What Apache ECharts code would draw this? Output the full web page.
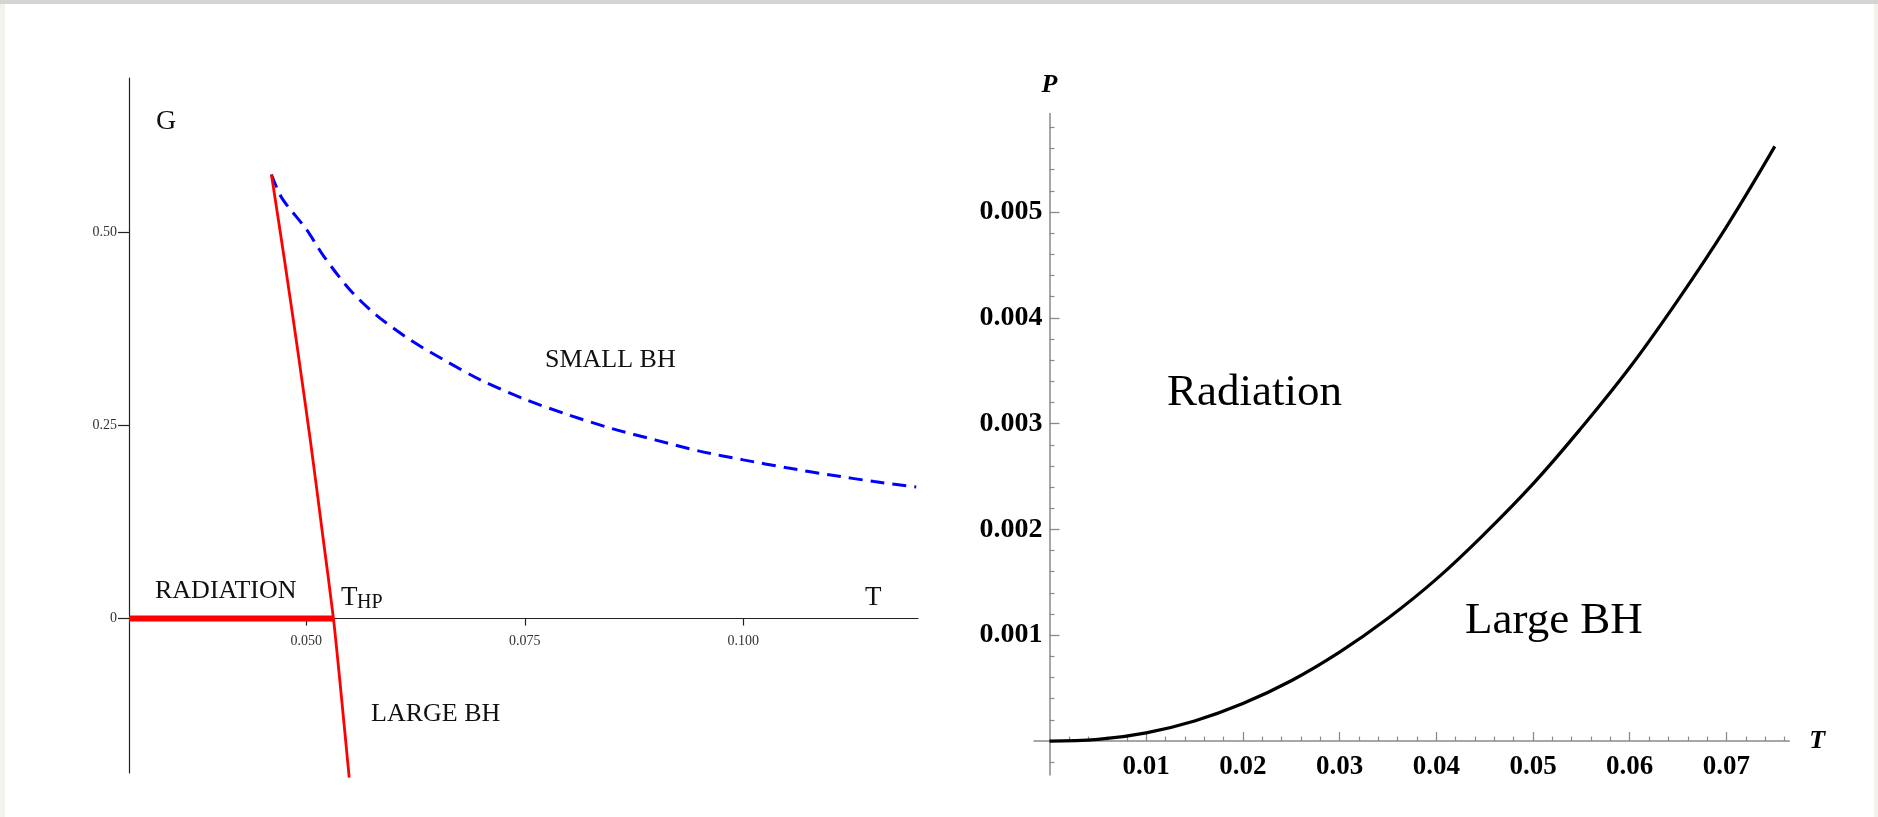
<!DOCTYPE html>
<html>
<head>
<meta charset="utf-8">
<title>Hawking-Page transition</title>
<script src="https://cdn.jsdelivr.net/npm/echarts@6/dist/echarts.min.js"></script>
<style>
  html, body { margin: 0; padding: 0; background: #ffffff; }
  #wrap { position: relative; width: 1878px; height: 817px; overflow: hidden; }
  #chart { position: absolute; left: 0; top: 0; width: 1878px; height: 817px; }
  .edge { position: absolute; pointer-events: none; }
</style>
</head>
<body>
<div id="wrap">
  <div id="chart"></div>
  <div class="edge" style="left:0;top:0;width:5px;height:817px;background:#f3f2ec"></div>
  <div class="edge" style="right:0;top:0;width:4px;height:817px;background:#f3f2ec"></div>
  <div class="edge" style="left:0;top:0;width:1878px;height:4px;background:#d4d4d4"></div>
</div>
<script>
// ---- Left panel: free energy G against temperature T ----
// radiation phase, G = 0 up to the Hawking-Page temperature
const radiationT = [0.0297, 0.0531];
const radiationG = [0, 0];
// large black hole branch
const largeT = [0.0460, 0.0475, 0.0490, 0.0505, 0.0518, 0.0531, 0.0540, 0.0549];
const largeG = [0.575, 0.464, 0.348, 0.227, 0.114, 0.000, -0.100, -0.206];
// small black hole branch
const smallT = [0.0460, 0.0472, 0.0500, 0.0520, 0.0550, 0.0580, 0.0620, 0.0660, 0.0700,
                0.0750, 0.0800, 0.0850, 0.0900, 0.0950, 0.1000, 0.1050, 0.1100, 0.1150, 0.1198];
const smallG = [0.575, 0.5445, 0.504, 0.469, 0.4255, 0.393, 0.360, 0.3333, 0.3086,
                0.284, 0.2638, 0.2459, 0.2311, 0.2168, 0.2055, 0.1952, 0.1859, 0.1774, 0.1705];
const gTicksT = [0.05, 0.075, 0.1];
const gTickLabelsT = ['0.050', '0.075', '0.100'];
const gTicksG = [0, 0.25, 0.5];
const gTickLabelsG = ['0', '0.25', '0.50'];

// ---- Right panel: coexistence line P(T) ----
const lineT = [0, 0.005, 0.010, 0.015, 0.020, 0.025, 0.030, 0.035, 0.040, 0.045,
               0.050, 0.055, 0.060, 0.065, 0.070, 0.075];
const lineP = [0, 0.000015, 0.0000775, 0.00019, 0.000355, 0.00057, 0.00084, 0.00116, 0.00153, 0.00196,
               0.00243, 0.00296, 0.00353, 0.00417, 0.00486, 0.00562];
const pTicksT = [0.01, 0.02, 0.03, 0.04, 0.05, 0.06, 0.07];
const pTickLabelsT = ['0.01', '0.02', '0.03', '0.04', '0.05', '0.06', '0.07'];
const pTicksP = [0.001, 0.002, 0.003, 0.004, 0.005];
const pTickLabelsP = ['0.001', '0.002', '0.003', '0.004', '0.005'];

// minor tick positions for the right panel
const pMinorT = [];
for (let k = 1; k <= 38; k++) if (k % 5) pMinorT.push(+(k * 0.002).toFixed(3));
const pMinorP = [];
for (let k = -1; k <= 29; k++) if (k % 5) pMinorP.push(+(k * 0.0002).toFixed(4));

const zip = (xs, ys) => xs.map((x, i) => [x, ys[i]]);
const labelOf = (ticks, labels) => v => {
  const i = ticks.findIndex(t => Math.abs(t - v) < 1e-9);
  return i < 0 ? '' : labels[i];
};

const SERIF = '"Liberation Serif", "Times New Roman", serif';
const leftAxisColor = '#222222';
const rightAxisColor = '#8a8a8a';

// plot boxes and axis ranges
const leftBox = { left: 129, top: 78, width: 789, height: 695 };
const leftT = [0.0297, 0.12];
const leftG = [-0.2, 0.7];
const rightBox = { left: 1034, top: 113.6, width: 755.3, height: 661.3 };
const rightT = [-0.0016, 0.0765];
const rightP = [-0.00032, 0.00593];

// axes cross at zero: shift each axis from the box edge to the zero of the other axis
const leftXShift = -leftBox.height * (0 - leftG[0]) / (leftG[1] - leftG[0]);
const rightXShift = -rightBox.height * (0 - rightP[0]) / (rightP[1] - rightP[0]);
const rightYShift = -rightBox.width * (0 - rightT[0]) / (rightT[1] - rightT[0]);

const chart = echarts.init(document.getElementById('chart'), null, { renderer: 'canvas' });

const noSplit = { show: false };

const option = {
  animation: false,
  backgroundColor: '#ffffff',
  grid: [
    Object.assign({ containLabel: false, outerBoundsMode: 'none' }, leftBox),
    Object.assign({ containLabel: false, outerBoundsMode: 'none' }, rightBox)
  ],
  xAxis: [
    {
      gridIndex: 0, type: 'value', min: leftT[0], max: leftT[1], position: 'bottom', offset: leftXShift,
      axisLine: { show: true, onZero: false, lineStyle: { color: leftAxisColor, width: 1.2 } },
      axisTick: { show: true, customValues: gTicksT, length: 7, inside: false,
                  lineStyle: { color: leftAxisColor, width: 1.2 } },
      axisLabel: { show: true, customValues: gTicksT, formatter: labelOf(gTicksT, gTickLabelsT),
                   margin: 16, fontSize: 14, fontFamily: SERIF, color: '#333333' },
      splitLine: noSplit
    },
    {
      gridIndex: 1, type: 'value', min: rightT[0], max: rightT[1], position: 'bottom', offset: rightXShift,
      axisLine: { show: true, onZero: false, lineStyle: { color: rightAxisColor, width: 1.5 } },
      axisTick: { show: true, customValues: pTicksT, length: 9, inside: true,
                  lineStyle: { color: rightAxisColor, width: 1.3 } },
      axisLabel: { show: true, customValues: pTicksT, formatter: labelOf(pTicksT, pTickLabelsT),
                   margin: 12, fontSize: 27, fontWeight: 'bold', fontFamily: SERIF, color: '#000000' },
      name: 'T', nameLocation: 'end', nameGap: 20,
      nameTextStyle: { fontSize: 26, fontWeight: 'bold', fontStyle: 'italic', fontFamily: SERIF,
                       color: '#000000', verticalAlign: 'middle' },
      splitLine: noSplit
    },
    {
      gridIndex: 1, type: 'value', min: rightT[0], max: rightT[1], position: 'bottom', offset: rightXShift,
      axisLine: { show: false, onZero: false },
      axisTick: { show: true, customValues: pMinorT, length: 4.5, inside: true,
                  lineStyle: { color: rightAxisColor, width: 1.2 } },
      axisLabel: { show: false },
      splitLine: noSplit
    }
  ],
  yAxis: [
    {
      gridIndex: 0, type: 'value', min: leftG[0], max: leftG[1], position: 'left',
      axisLine: { show: true, onZero: false, lineStyle: { color: leftAxisColor, width: 1.2 } },
      axisTick: { show: true, customValues: gTicksG, length: 11, inside: false,
                  lineStyle: { color: leftAxisColor, width: 1.2 } },
      axisLabel: { show: true, customValues: gTicksG, formatter: labelOf(gTicksG, gTickLabelsG),
                   margin: 12, fontSize: 14, fontFamily: SERIF, color: '#333333' },
      splitLine: noSplit
    },
    {
      gridIndex: 1, type: 'value', min: rightP[0], max: rightP[1], position: 'left', offset: rightYShift,
      axisLine: { show: true, onZero: false, lineStyle: { color: rightAxisColor, width: 1.5 } },
      axisTick: { show: true, customValues: pTicksP, length: 10, inside: true,
                  lineStyle: { color: rightAxisColor, width: 1.3 } },
      axisLabel: { show: true, customValues: pTicksP, formatter: labelOf(pTicksP, pTickLabelsP),
                   margin: 7, fontSize: 28, fontWeight: 'bold', fontFamily: SERIF, color: '#000000' },
      name: 'P', nameLocation: 'end', nameGap: 15,
      nameTextStyle: { fontSize: 26, fontWeight: 'bold', fontStyle: 'italic', fontFamily: SERIF,
                       color: '#000000', align: 'center' },
      splitLine: noSplit
    },
    {
      gridIndex: 1, type: 'value', min: rightP[0], max: rightP[1], position: 'left', offset: rightYShift,
      axisLine: { show: false, onZero: false },
      axisTick: { show: true, customValues: pMinorP, length: 5, inside: true,
                  lineStyle: { color: rightAxisColor, width: 1.2 } },
      axisLabel: { show: false },
      splitLine: noSplit
    }
  ],
  series: [
    {
      name: 'radiation', type: 'line', xAxisIndex: 0, yAxisIndex: 0,
      data: zip(radiationT, radiationG), showSymbol: false, symbol: 'none',
      lineStyle: { color: '#ff0000', width: 6, cap: 'butt' }, z: 3
    },
    {
      name: 'large BH', type: 'line', xAxisIndex: 0, yAxisIndex: 0,
      data: zip(largeT, largeG), showSymbol: false, symbol: 'none', smooth: 0.25, clip: false,
      lineStyle: { color: '#ff0000', width: 2.8 }, z: 4
    },
    {
      name: 'small BH', type: 'line', xAxisIndex: 0, yAxisIndex: 0,
      data: zip(smallT, smallG), showSymbol: false, symbol: 'none', smooth: 0.3,
      lineStyle: { color: '#0000ff', width: 3, type: [14, 8] }, z: 2
    },
    {
      name: 'coexistence', type: 'line', xAxisIndex: 1, yAxisIndex: 1,
      data: zip(lineT, lineP), showSymbol: false, symbol: 'none', smooth: 0.4,
      lineStyle: { color: '#000000', width: 3.2 }, z: 3
    }
  ],
  graphic: [
    // left panel annotations
    { type: 'text', x: 156, y: 122, style: { text: 'G', font: '28px ' + SERIF, fill: '#111', verticalAlign: 'middle' } },
    { type: 'text', x: 545, y: 360, style: { text: 'SMALL BH', font: '26px ' + SERIF, fill: '#111', verticalAlign: 'middle' } },
    { type: 'text', x: 155, y: 591, style: { text: 'RADIATION', font: '26px ' + SERIF, fill: '#111', verticalAlign: 'middle' } },
    { type: 'text', x: 341, y: 598, style: { text: 'T', font: '27px ' + SERIF, fill: '#111', verticalAlign: 'middle' } },
    { type: 'text', x: 357, y: 603, style: { text: 'HP', font: '20px ' + SERIF, fill: '#111', verticalAlign: 'middle' } },
    { type: 'text', x: 865, y: 598, style: { text: 'T', font: '27px ' + SERIF, fill: '#111', verticalAlign: 'middle' } },
    { type: 'text', x: 371, y: 714, style: { text: 'LARGE BH', font: '26px ' + SERIF, fill: '#111', verticalAlign: 'middle' } },
    // right panel annotations
    { type: 'text', x: 1167, y: 393, style: { text: 'Radiation', font: '45px ' + SERIF, fill: '#000', verticalAlign: 'middle' } },
    { type: 'text', x: 1465, y: 621, style: { text: 'Large BH', font: '45px ' + SERIF, fill: '#000', verticalAlign: 'middle' } }
  ]
};

chart.setOption(option);
</script>
</body>
</html>
